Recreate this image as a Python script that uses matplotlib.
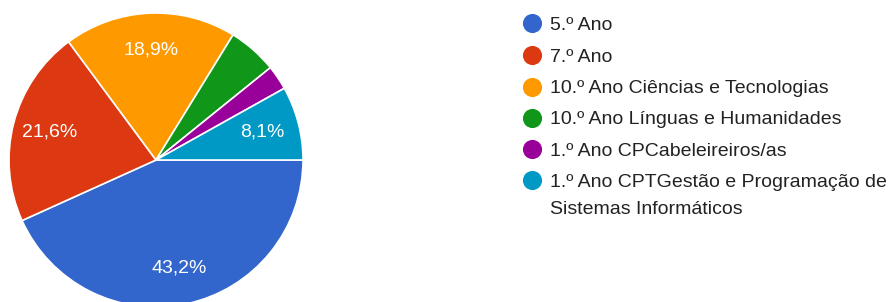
import matplotlib.pyplot as plt

plt.rcParams['font.family'] = ['Liberation Sans', 'DejaVu Sans']

categories = [
    "5.º Ano",
    "7.º Ano",
    "10.º Ano Ciências e Tecnologias",
    "10.º Ano Línguas e Humanidades",
    "1.º Ano CPCabeleireiros/as",
    "1.º Ano CPTGestão e Programação de\nSistemas Informáticos",
]
counts = [16, 8, 7, 2, 1, 3]
colors = ["#3366cc", "#dc3912", "#ff9900", "#109618", "#990099", "#0099c6"]


def pct_label(p):
    # small slices get no label, like the original
    if p < 6:
        return ""
    return ("%.1f%%" % p).replace(".", ",")


fig = plt.figure(figsize=(8.9, 3.02), dpi=100)

# pie: centre ~ (156, 160) px, radius ~147 px
ax = fig.add_axes([9 / 890, (302 - 160 - 147) / 302, 294 / 890, 294 / 302])
wedges, texts, autotexts = ax.pie(
    counts, colors=colors, startangle=0, counterclock=False,
    autopct=pct_label, pctdistance=0.75,
    wedgeprops=dict(edgecolor="white", linewidth=1.2),
    textprops=dict(color="white", fontsize=14),
)
ax.set_xlim(-1, 1)
ax.set_ylim(-1, 1)
ax.set_aspect("equal")
ax.axis("off")

# legend drawn in pixel coordinates
lg = fig.add_axes([0, 0, 1, 1])
lg.set_xlim(0, 890)
lg.set_ylim(302, 0)
lg.axis("off")
rows_y = [23, 55, 86.5, 117.5, 149, 180]
for y, c, name in zip(rows_y, colors, categories):
    lg.scatter([531.5], [y], s=190, color=c, linewidths=0)
    for k, line in enumerate(name.split("\n")):
        lg.text(550, y + 6.8 + 26.7 * k, line, fontsize=14, color="#222222",
                va="baseline", ha="left")

fig.savefig("out.png", dpi=100)
